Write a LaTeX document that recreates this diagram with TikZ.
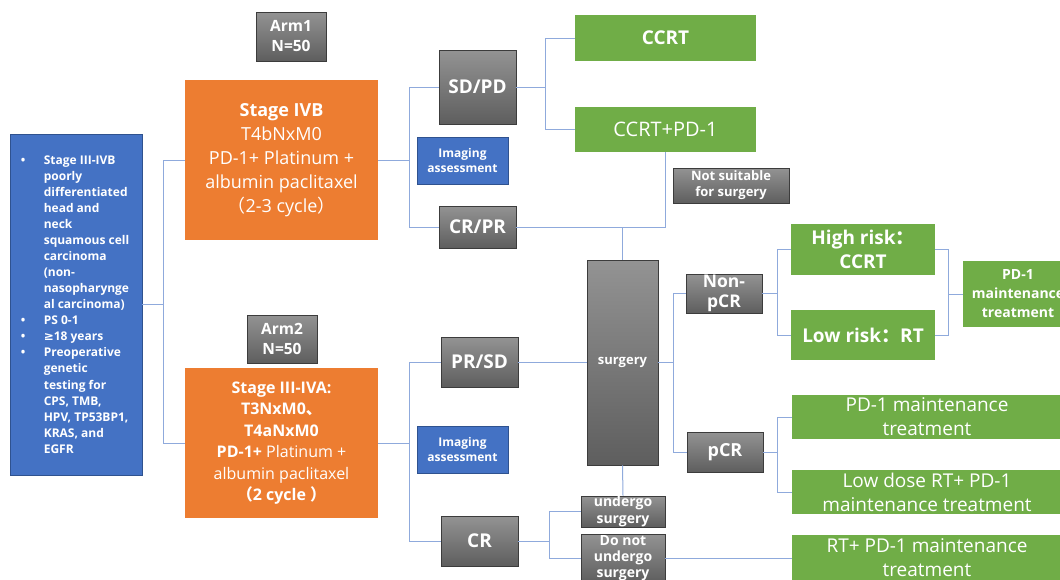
\documentclass[tikz,border=0pt]{standalone}
\usepackage{fontspec}
\setmainfont{Open Sans}
\newfontfamily\cjk{Noto Sans CJK SC}
\newfontfamily\sym{DejaVu Sans}
\definecolor{boxorange}{HTML}{ED7D31}
\definecolor{boxgreen}{HTML}{70AD47}
\definecolor{boxblue}{HTML}{4472C4}
\definecolor{boxblueline}{HTML}{2F528F}
\definecolor{greytop}{HTML}{939393}
\definecolor{greybot}{HTML}{5E5E5E}
\definecolor{greyline}{HTML}{3C3C3C}
\definecolor{linkblue}{HTML}{8FAADC}
\newcommand{\fs}[2]{\fontsize{#1}{#2}\selectfont}
\begin{document}
\begin{tikzpicture}[x=1pt,y=-1pt,
	wh/.style 2 args={minimum width=#1pt,minimum height=#2pt},
	box/.style={inner sep=0pt,align=center,text=white},
	orangebox/.style={box,fill=boxorange},
	greenbox/.style={box,fill=boxgreen},
	bluebox/.style={box,fill=boxblue,draw=boxblueline,line width=0.8pt},
	greybox/.style={box,top color=greytop,bottom color=greybot,draw=greyline,line width=0.8pt},
	link/.style={draw=linkblue,line width=1pt}]
	\useasboundingbox (0,0) rectangle (1060,579);
	\clip (0,0) rectangle (1060,579);
	\fill[white] (0,0) rectangle (1060,579);
	% inclusion criteria
	\node[bluebox,wh={132}{341}] (incl) at (76,304.5) {};
	\node[anchor=west,inner sep=0pt,align=left,text=white,font=\bfseries\fs{12}{16.05}] (incltext) at ([xshift=11pt]incl.west) {%
		\makebox[23pt][l]{•}Stage III-IVB\\
		\hspace*{23pt}poorly\\
		\hspace*{23pt}differentiated\\
		\hspace*{23pt}head and\\
		\hspace*{23pt}neck\\
		\hspace*{23pt}squamous cell\\
		\hspace*{23pt}carcinoma\\
		\hspace*{23pt}(non-\\
		\hspace*{23pt}nasopharynge\\
		\hspace*{23pt}al carcinoma)\\
		\makebox[23pt][l]{•}PS 0-1\\
		\makebox[23pt][l]{•}{\sym\bfseries ≥}18 years\\
		\makebox[23pt][l]{•}Preoperative\\
		\hspace*{23pt}genetic\\
		\hspace*{23pt}testing for\\
		\hspace*{23pt}CPS, TMB,\\
		\hspace*{23pt}HPV, TP53BP1,\\
		\hspace*{23pt}KRAS, and\\
		\hspace*{23pt}EGFR};
	% arms
	\node[greybox,wh={70}{49},font=\bfseries\fs{15.5}{20}] (arm1) at (291,36.5) {Arm1\\N=50};
	\node[greybox,wh={70}{48},font=\bfseries\fs{15.5}{20}] (arm2) at (282,339) {Arm2\\N=50};
	\node[orangebox,wh={193}{160},font=\fs{18}{24}] (ivb) at (281.5,160)
		{{\bfseries Stage IVB}\\T4bNxM0\\PD-1+ Platinum +\\albumin paclitaxel\\{\cjk （}2-3 cycle{\cjk ）}};
	\node[orangebox,wh={193}{150},font=\fs{16}{21.5}] (iva) at (281.5,443)
		{{\bfseries Stage III-IVA:}\\{\bfseries T3NxM0{\cjk 、}}\\{\bfseries T4aNxM0}\\{\bfseries PD-1+} Platinum +\\albumin paclitaxel\\{\bfseries {\cjk （}2 cycle {\cjk ）}}};
	% response
	\node[greybox,wh={77}{74},font=\bfseries\fs{19}{23}] (sdpd) at (477.5,87) {SD/PD};
	\node[bluebox,wh={91}{47},font=\bfseries\fs{12}{15}] (img1) at (462.5,160.5) {Imaging\\assessment};
	\node[greybox,wh={77}{42},font=\bfseries\fs{19}{23}] (crpr) at (477.5,227) {CR/PR};
	\node[greybox,wh={77}{50},font=\bfseries\fs{19}{23}] (prsd) at (479.5,362) {PR/SD};
	\node[bluebox,wh={91}{47},font=\bfseries\fs{12}{15}] (img2) at (462.5,449.5) {Imaging\\assessment};
	\node[greybox,wh={77}{50},font=\bfseries\fs{19}{23}] (cr) at (479.5,541) {CR};
	% treatment
	\node[greenbox,wh={181}{46},font=\bfseries\fs{19}{23}] (ccrt) at (665.5,38) {CCRT};
	\node[greenbox,wh={181}{45},font=\fs{20}{24}] (ccrtpd) at (665.5,129.5) {CCRT+PD-1};
	\node[greybox,wh={116}{35},font=\bfseries\fs{13}{16}] (nots) at (731,185.5) {Not suitable\\for surgery};
	\node[greybox,wh={71}{205},font=\bfseries\fs{13}{16}] (surg) at (622.5,362.5) {surgery};
	\node[greybox,wh={84}{31},font=\bfseries\fs{14}{17}] (undergo) at (623,511.5) {undergo\\surgery};
	\node[greybox,wh={84}{48},font=\bfseries\fs{14}{16}] (notund) at (623,558) {Do not\\undergo\\surgery};
	\node[greybox,wh={76}{39},font=\bfseries\fs{17.5}{20}] (npcr) at (724,293.5) {Non-\\pCR};
	\node[greybox,wh={76}{40},font=\bfseries\fs{18}{22}] (pcr) at (725,452) {pCR};
	\node[greenbox,wh={144}{51},font=\bfseries\fs{19}{24}] (high) at (863,249.5) {High risk{\cjk ：}\\CCRT};
	\node[greenbox,wh={144}{50},font=\bfseries\fs{19}{24}] (low) at (863,335) {Low risk{\cjk ：}RT};
	\node[greenbox,wh={110}{66},font=\bfseries\fs{14}{19}] (pd1m) at (1018,294) {PD-1\\maintenance\\treatment};
	\node[greenbox,wh={270}{44},font=\fs{19}{24}] (pd1mt) at (927,417) {PD-1 maintenance\\treatment};
	\node[greenbox,wh={270}{44},font=\fs{19}{24}] (lowdose) at (927,492) {Low dose RT+ PD-1\\maintenance treatment};
	\node[greenbox,wh={270}{45},font=\fs{19}{24}] (rtpd) at (927,557.5) {RT+ PD-1 maintenance\\treatment};
	% connectors
	\draw[link] (incl.east) -- ++(21,0) |- (ivb.west);
	\draw[link] (incl.east) -- ++(21,0) |- (iva.west);
	\draw[link] (ivb.east) -- ++(31,0) |- (sdpd.west);
	\draw[link] (ivb.east) -- ++(31,0) |- (crpr.west);
	\draw[link] (iva.east) -- ++(31,0) |- (prsd.west);
	\draw[link] (iva.east) -- ++(31,0) |- (cr.west);
	\draw[link] (sdpd.east) -- ++(29,0) |- (ccrt.west);
	\draw[link] (sdpd.east) -- ++(29,0) |- (ccrtpd.west);
	\draw[link] (crpr.east) -| (ccrtpd.south);
	\draw[link] (surg.north) -- (surg.north |- crpr.east);
	\draw[link] (prsd.east) -- (prsd.east -| surg.west);
	\draw[link] (surg.south) -- (undergo.north);
	\draw[link] (cr.east) -- ++(31,0) |- (undergo.west);
	\draw[link] (cr.east) -- ++(31,0) |- (notund.west);
	\draw[link] (notund.east) -- (notund.east -| rtpd.west);
	\draw[link] (surg.east) -- ++(15,0) |- (npcr.west);
	\draw[link] (surg.east) -- ++(15,0) |- (pcr.west);
	\draw[link] (npcr.east) -- ++(15,0) |- (high.west);
	\draw[link] (npcr.east) -- ++(15,0) |- (low.west);
	\draw[link] (high.east) -- ++(13,0) |- (pd1m.west);
	\draw[link] (low.east) -- ++(13,0) |- (pd1m.west);
	\draw[link] (pcr.east) -- ++(14,0) |- (pd1mt.west);
	\draw[link] (pcr.east) -- ++(14,0) |- (lowdose.west);
\end{tikzpicture}
\end{document}
